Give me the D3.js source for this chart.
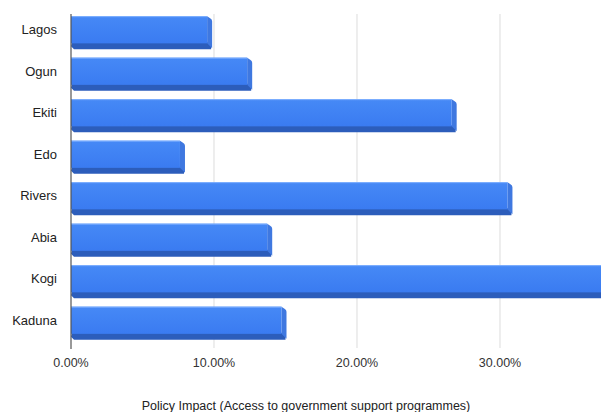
<!DOCTYPE html>
<html><head><meta charset="utf-8">
<script src="https://cdn.jsdelivr.net/npm/d3@7"></script>
<style>body{margin:0;background:#fff}svg{display:block;font-family:"Liberation Sans",Arial,sans-serif}</style>
</head><body><svg id="c" width="601" height="412"></svg>
<script>
const categories = ["Lagos","Ogun","Ekiti","Edo","Rivers","Abia","Kogi","Kaduna"];
const values = [9.8, 12.6, 26.9, 7.9, 30.8, 14.0, 38.0, 15.0];
const ticks = [0, 10, 20, 30];
const axisTitle = "Policy Impact (Access to government support programmes)";

const svg = d3.select("#c");
const x = d3.scaleLinear().domain([0, 30]).range([71, 500]);
const y = d3.scaleBand().domain(categories).range([12, 344]).paddingInner(0.2).paddingOuter(0.1);

// gridlines
svg.append("g").selectAll("line").data(ticks.slice(1)).join("line")
  .attr("x1", d => x(d)).attr("x2", d => x(d))
  .attr("y1", 14).attr("y2", 348)
  .attr("stroke", "#e2e2e2").attr("stroke-width", 1.2);

const defs = svg.append("defs");
const g1 = defs.append("linearGradient").attr("id","face").attr("x1",0).attr("y1",0).attr("x2",0).attr("y2",1);
g1.append("stop").attr("offset","0%").attr("stop-color","#4689f6");
g1.append("stop").attr("offset","100%").attr("stop-color","#3a7bf1");

const bars = svg.append("g").selectAll("g").data(categories).join("g");
const depth = 6;
bars.each(function(c, i){
  const g = d3.select(this);
  const x0 = x(0), x1 = x(values[i]);
  const y0 = y(c), h = y.bandwidth();
  g.append("path").attr("d",
    `M${x0+1},${y0+h-depth-1} L${x1-3},${y0+h-depth-1} L${x1},${y0+h-depth+2} L${x1},${y0+h} L${x0+3},${y0+h} L${x0},${y0+h-3} Z`)
    .attr("fill", "#2c5dbb");
  g.append("path").attr("d",
    `M${x1-4},${y0} L${x1-1},${y0+2} Q${x1+1},${y0+3} ${x1+1},${y0+5} L${x1+1},${y0+h-1} L${x1-4},${y0+h-depth} Z`)
    .attr("fill", "#3f78e0");
  g.append("rect").attr("x", x0).attr("y", y0).attr("width", Math.max(0, x1 - x0 - 4)).attr("height", h - depth)
    .attr("fill", "url(#face)");
  g.append("line").attr("x1", x0).attr("x2", x1-4).attr("y1", y0+0.5).attr("y2", y0+0.5)
    .attr("stroke", "#7fb0ff").attr("stroke-width", 1);
});

svg.append("line").attr("x1", x(0)).attr("x2", x(0)).attr("y1", 14).attr("y2", 349)
  .attr("stroke", "#555").attr("stroke-width", 1.2);

svg.append("g").selectAll("text").data(categories).join("text")
  .attr("x", 57).attr("y", d => y(d) + (y.bandwidth() - 6) / 2 + 1)
  .attr("text-anchor", "end").attr("dominant-baseline", "middle")
  .attr("font-size", 13).attr("fill", "#222").text(d => d);

svg.append("g").selectAll("text").data(ticks).join("text")
  .attr("x", d => x(d)).attr("y", 367)
  .attr("text-anchor", "middle").attr("font-size", 12.5).attr("fill", "#333")
  .text(d => d3.format(".2f")(d) + "%");

svg.append("text").attr("x", 306).attr("y", 410).attr("text-anchor", "middle")
  .attr("font-size", 12.5).attr("fill", "#222").text(axisTitle);
</script></body></html>
